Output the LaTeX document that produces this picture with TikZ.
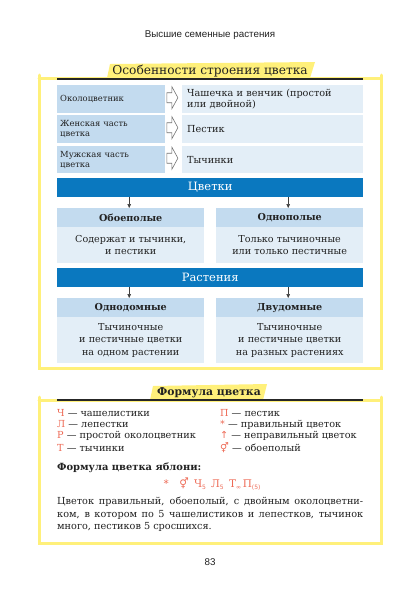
\documentclass[tikz,border=0pt]{standalone}
\usepackage{fontspec}
\setmainfont{DejaVu Serif}
\newfontfamily\symfont{DejaVu Sans}
\newfontfamily\hdrfont{Liberation Sans}
\usetikzlibrary{arrows.meta,calc}
\definecolor{lblue}{HTML}{C3DBEF}
\definecolor{pblue}{HTML}{E3EEF7}
\definecolor{barblue}{HTML}{0A78BF}
\definecolor{yel}{HTML}{FFF07A}
\definecolor{fred}{HTML}{EE6A55}
\definecolor{dark}{HTML}{222222}
\newcommand\rd[1]{{\color{fred}#1}}
\newcommand\sbs[1]{\raisebox{-2.6pt}{\symfont\fontsize{6}{6}\selectfont #1}}
\begin{document}
\begin{tikzpicture}[x=1pt,y=-1pt,
  every node/.style={text=dark},
  lbox/.style={anchor=north west, fill=lblue, minimum height=28pt, inner xsep=3pt, inner ysep=0pt, text width=102pt, align=left, font=\fontsize{8.4}{10}\selectfont},
  rbox/.style={anchor=north west, fill=pblue, minimum height=28pt, inner xsep=5pt, inner ysep=0pt, text width=171pt, align=left, font=\fontsize{9.7}{11}\selectfont},
  bar/.style={anchor=north west, fill=barblue, minimum width=306pt, minimum height=19pt, inner sep=0pt, text=white, font=\fontsize{11.5}{13}\selectfont},
  cathead/.style={anchor=north west, fill=lblue, minimum width=147pt, minimum height=19pt, inner sep=0pt, font=\bfseries\fontsize{9.6}{11}\selectfont},
  catbody/.style={anchor=north west, fill=pblue, text width=147pt, inner sep=0pt, align=center, font=\fontsize{9.6}{12.5}\selectfont},
  harrow/.style={draw=black!55, fill=white, line width=0.6pt, line join=miter},
  conn/.style={-{Triangle[length=4pt,width=3.6pt]}, line width=0.6pt, draw=black!75},
  frame/.style={draw=yel, line width=3pt, line cap=round},
  hilite/.style={fill=yel},
  rule/.style={draw=black!85, line width=1.5pt},
  leg/.style={anchor=west, inner sep=0pt, font=\fontsize{9.7}{11}\selectfont},
]
\useasboundingbox (0,0) rectangle (420,600);
\fill[white] (0,0) rectangle (420,600);

\node[font=\hdrfont\fontsize{9.8}{11}\selectfont] (hdr) at (210,35) {Высшие семенные растения};

% ---------- frame 1 ----------
\draw[frame] (39,75) -- (39,368) -- (381,368) -- (381,75);
\draw[frame] (39,78) -- (381,78);
\fill[hilite] (110,64) -- (315,62) -- (310,78) -- (107,78) -- cycle;
\node[font=\fontsize{12.2}{14}\selectfont] (t1) at (210,71.5) {Особенности строения цветка};
\draw[rule] (57,79) -- (363,79);

\node[lbox] (l1) at (57,85) {Околоцветник};
\node[rbox] (r1) at (182,85) {Чашечка и венчик (простой\\или двойной)};
\node[lbox] (l2) at (57,115) {Женская часть\\цветка};
\node[rbox] (r2) at (182,115) {Пестик};
\node[lbox, minimum height=27pt] (l3) at (57,146) {Мужская часть\\цветка};
\node[rbox, minimum height=27pt] (r3) at (182,146) {Тычинки};

\foreach \n in {l1,l2,l3}{
  \draw[harrow] ($(\n.east)+(1.5,-1.5)$) ++(0,-5) -- ++(5,0) -- ++(0,-6) -- ++(6,11) -- ++(-6,11) -- ++(0,-6) -- ++(-5,0) -- cycle;
}

\node[bar] (b1) at (57,178) {Цветки};
\node[cathead] (h1) at (57,208) {Обоеполые};
\node[catbody, minimum height=36pt] (c1) at (57,227) {Содержат и тычинки,\\и пестики};
\node[cathead] (h2) at (216,208) {Однополые};
\node[catbody, minimum height=36pt] (c2) at (216,227) {Только тычиночные\\или только пестичные};
\draw[conn] ([xshift=-1.5pt]h1.north |- b1.south) -- ([xshift=-1.5pt]h1.north);
\draw[conn] ([xshift=-1.5pt]h2.north |- b1.south) -- ([xshift=-1.5pt]h2.north);

\node[bar] (b2) at (57,268) {Растения};
\node[cathead] (h3) at (57,298) {Однодомные};
\node[catbody, minimum height=46pt] (c3) at (57,317) {Тычиночные\\и пестичные цветки\\на одном растении};
\node[cathead] (h4) at (216,298) {Двудомные};
\node[catbody, minimum height=46pt] (c4) at (216,317) {Тычиночные\\и пестичные цветки\\на разных растениях};
\draw[conn] ([xshift=-1.5pt]h3.north |- b2.south) -- ([xshift=-1.5pt]h3.north);
\draw[conn] ([xshift=-1.5pt]h4.north |- b2.south) -- ([xshift=-1.5pt]h4.north);

% ---------- frame 2 ----------
\draw[frame] (39,397) -- (39,543) -- (381,543) -- (381,397);
\draw[frame] (39,400) -- (381,400);
\fill[hilite] (153,386) -- (267,384) -- (263,400) -- (150,400) -- cycle;
\node[font=\bfseries\fontsize{10.8}{12}\selectfont] (t2) at (209,392.5) {Формула цветка};
\draw[rule] (57,400) -- (363,400);

\node[leg] (k1) at (57,413) {\rd{Ч} — чашелистики};
\node[leg] (k2) at (57,424.5) {\rd{Л} — лепестки};
\node[leg] (k3) at (57,436) {\rd{Р} — простой околоцветник};
\node[leg] (k4) at (57,447.5) {\rd{Т} — тычинки};
\node[leg] (k5) at (220,413) {\rd{П} — пестик};
\node[leg] (k6) at (220,424.5) {\rd{\symfont*} — правильный цветок};
\node[leg] (k7) at (220,436) {\rd{\symfont↑} — неправильный цветок};
\node[leg] (k8) at (220,447.5) {\rd{\symfont ⚥} — обоеполый};

\node[leg, font=\bfseries\fontsize{9.9}{11}\selectfont] (ft) at (57,468) {Формула цветка яблони:};
\node[font=\fontsize{10.5}{12}\selectfont, text=fred] (fm) at (212,484)
  {{\symfont *}\enspace\enspace{\symfont ⚥}\enspace Ч\sbs{5}\enspace Л\sbs{5}\enspace Т\sbs{∞}\,П\sbs{(5)}};

\node[anchor=north west, inner sep=0pt, text width=306pt, align=justify, font=\fontsize{9.7}{12.5}\selectfont] (para) at (57,497)
  {Цветок правильный, обоеполый, с двойным околоцветни-\linebreak ком, в котором по 5 чашелистиков и лепестков, тычинок\linebreak много, пестиков 5 сросшихся.};

\node[font=\hdrfont\fontsize{9.8}{11}\selectfont] (pg) at (210,562) {83};
\end{tikzpicture}
\end{document}
